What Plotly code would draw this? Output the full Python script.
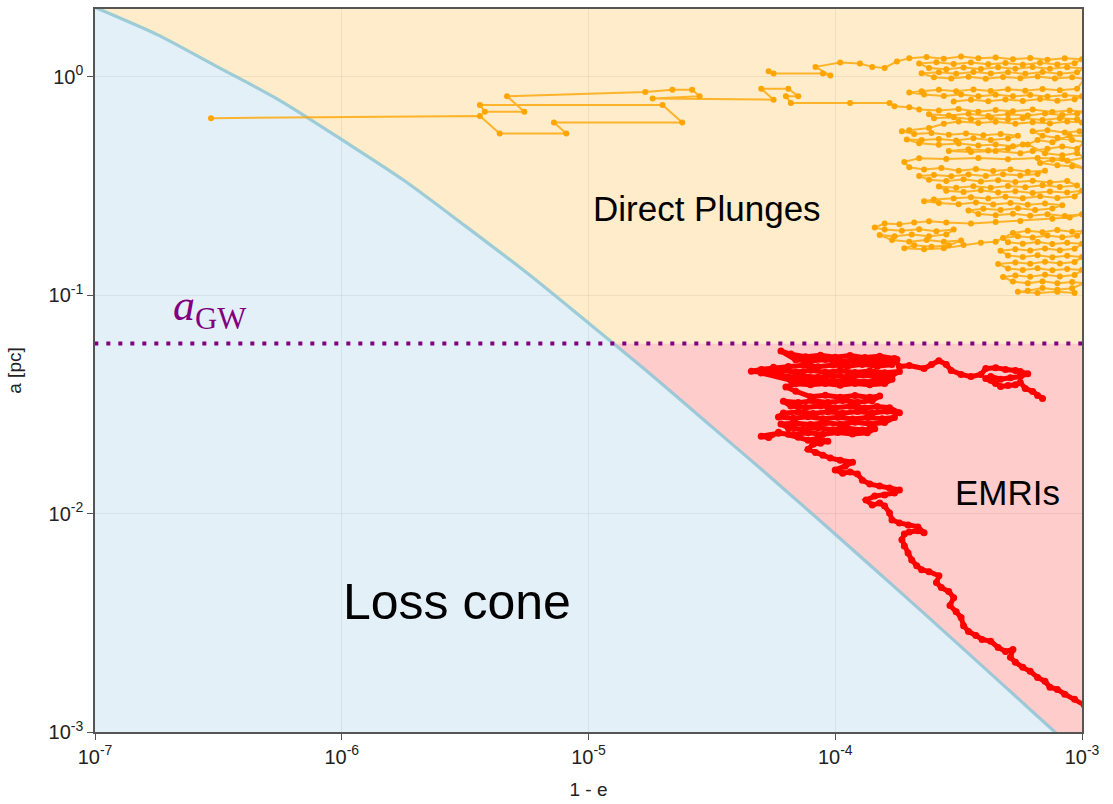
import math
import plotly.graph_objects as go

# ---------------- data (log10 units) ----------------
x_range_log = [-7.0, -3.0]          # log10(1 - e)
y_range_log = [-3.0, 0.31]          # log10(a / pc)
a_gw = 0.06                          # a_GW [pc]

x_tick_exp = [-7, -6, -5, -4, -3]
y_tick_exp = [-3, -2, -1, 0]

# loss-cone boundary: (log10(1-e), log10 a)
boundary = [(-7.05, 0.345), (-7.00, 0.318), (-6.75, 0.194), (-6.50, 0.043), (-6.25, -0.109),
            (-6.00, -0.288), (-5.75, -0.473), (-5.50, -0.683), (-5.25, -0.898), (-5.00, -1.128),
            (-4.75, -1.361), (-4.50, -1.603), (-4.25, -1.846), (-4.00, -2.095), (-3.75, -2.346),
            (-3.50, -2.600), (-3.30, -2.805), (-3.11, -3.000), (-3.06, -3.050)]

# direct-plunge trajectory, piece 1 (stair-steps then the lower bands)
orange_steps = [(-6.53, -0.19), (-5.44, -0.18), (-5.36, -0.26), (-5.09, -0.26), (-5.14, -0.21), (-4.62, -0.21),
                (-4.70, -0.13), (-5.44, -0.13), (-5.42, -0.16), (-5.26, -0.16), (-5.33, -0.09), (-4.77, -0.07),
                (-4.66, -0.06), (-4.58, -0.06), (-4.55, -0.09), (-4.74, -0.10), (-4.25, -0.105), (-4.30, -0.055),
                (-4.19, -0.055), (-4.15, -0.09), (-4.20, -0.09), (-4.18, -0.12), (-3.94, -0.12), (-3.78, -0.12),
                (-3.76, -0.135), (-3.70, -0.14)]
orange_band3 = [(-3.66, -0.15), (-3.58, -0.155), (-3.50, -0.148), (-3.42, -0.16), (-3.35, -0.152), (-3.28, -0.158),
                (-3.20, -0.15), (-3.12, -0.162), (-3.05, -0.155), (-2.99, -0.16),
                (-3.02, -0.17), (-3.08, -0.175), (-3.15, -0.168), (-3.22, -0.178), (-3.30, -0.172), (-3.38, -0.18),
                (-3.46, -0.17), (-3.54, -0.178), (-3.62, -0.172),
                (-3.60, -0.19), (-3.52, -0.186), (-3.45, -0.195), (-3.37, -0.188), (-3.30, -0.196), (-3.24, -0.19),
                (-3.16, -0.198), (-3.09, -0.19), (-3.02, -0.195),
                (-3.00, -0.21), (-3.06, -0.205), (-3.13, -0.214), (-3.20, -0.208), (-3.27, -0.215), (-3.35, -0.206),
                (-3.42, -0.212), (-3.50, -0.205), (-3.56, -0.215)]
orange_band4 = [(-3.62, -0.235), (-3.70, -0.245), (-3.73, -0.25),
                (-3.68, -0.262), (-3.61, -0.258), (-3.54, -0.266), (-3.47, -0.26), (-3.40, -0.268), (-3.33, -0.262),
                (-3.26, -0.27),
                (-3.30, -0.283), (-3.37, -0.29), (-3.44, -0.282), (-3.51, -0.292), (-3.58, -0.285), (-3.65, -0.29),
                (-3.71, -0.288),
                (-3.66, -0.305), (-3.58, -0.312), (-3.50, -0.306), (-3.42, -0.315), (-3.35, -0.31), (-3.28, -0.318),
                (-3.24, -0.31),
                (-3.30, -0.33), (-3.38, -0.338), (-3.46, -0.332), (-3.54, -0.34),
                (-3.45, -0.345), (-3.35, -0.34), (-3.25, -0.35), (-3.20, -0.34),
                (-3.14, -0.33), (-3.08, -0.32), (-3.02, -0.33), (-2.99, -0.30), (-3.04, -0.29), (-3.10, -0.28),
                (-3.16, -0.27), (-3.20, -0.25), (-3.14, -0.245), (-3.07, -0.255), (-3.01, -0.25), (-2.99, -0.27),
                (-3.05, -0.27), (-3.12, -0.30), (-3.18, -0.29), (-3.22, -0.31), (-3.15, -0.35), (-3.08, -0.36),
                (-3.02, -0.35), (-2.99, -0.37), (-3.06, -0.385), (-3.12, -0.38), (-3.17, -0.395), (-3.10, -0.405),
                (-3.04, -0.41), (-2.99, -0.42)]
orange_band5 = [(-3.08, -0.376), (-3.18, -0.372), (-3.30, -0.378), (-3.42, -0.372), (-3.55, -0.377), (-3.66, -0.373),
                (-3.72, -0.39)]
orange_band6 = [(-3.70, -0.415), (-3.64, -0.425), (-3.57, -0.418), (-3.50, -0.43), (-3.43, -0.422), (-3.36, -0.432),
                (-3.29, -0.425), (-3.22, -0.435), (-3.15, -0.43),
                (-3.18, -0.445), (-3.25, -0.452), (-3.32, -0.446), (-3.39, -0.455), (-3.46, -0.448), (-3.53, -0.456),
                (-3.60, -0.45), (-3.66, -0.455),
                (-3.62, -0.472), (-3.55, -0.478), (-3.48, -0.47), (-3.41, -0.48), (-3.34, -0.474), (-3.27, -0.482),
                (-3.20, -0.476), (-3.13, -0.484), (-3.06, -0.478),
                (-3.02, -0.498), (-3.09, -0.505), (-3.16, -0.497), (-3.23, -0.506), (-3.30, -0.50), (-3.37, -0.508),
                (-3.44, -0.502), (-3.51, -0.508), (-3.58, -0.503),
                (-3.55, -0.522), (-3.48, -0.528), (-3.41, -0.52), (-3.34, -0.53), (-3.27, -0.524), (-3.20, -0.532),
                (-3.13, -0.525), (-3.06, -0.53), (-3.00, -0.522),
                (-3.03, -0.548), (-3.10, -0.555), (-3.17, -0.547), (-3.24, -0.556), (-3.31, -0.55), (-3.38, -0.558),
                (-3.45, -0.552), (-3.52, -0.558), (-3.60, -0.562), (-3.64, -0.57),
                (-3.58, -0.578), (-3.50, -0.584), (-3.43, -0.576), (-3.36, -0.585), (-3.29, -0.578), (-3.22, -0.586),
                (-3.15, -0.58), (-3.08, -0.588),
                (-3.12, -0.603), (-3.19, -0.61), (-3.26, -0.602), (-3.33, -0.61), (-3.40, -0.605), (-3.46, -0.612),
                (-3.42, -0.628), (-3.35, -0.634), (-3.28, -0.627), (-3.21, -0.636), (-3.14, -0.63), (-3.07, -0.638),
                (-3.00, -0.63), (-3.05, -0.645), (-3.12, -0.65)]
orange_band7 = [(-3.25, -0.66), (-3.35, -0.665), (-3.45, -0.672), (-3.55, -0.668), (-3.62, -0.662),
                (-3.68, -0.668), (-3.74, -0.676), (-3.80, -0.672), (-3.84, -0.69),
                (-3.80, -0.70), (-3.73, -0.705), (-3.66, -0.698), (-3.59, -0.708), (-3.52, -0.70),
                (-3.55, -0.722), (-3.62, -0.73), (-3.69, -0.722), (-3.76, -0.73), (-3.82, -0.725),
                (-3.77, -0.748), (-3.70, -0.755), (-3.63, -0.748), (-3.56, -0.756), (-3.49, -0.75),
                (-3.54, -0.772), (-3.61, -0.778), (-3.68, -0.772), (-3.72, -0.785),
                (-3.64, -0.79), (-3.56, -0.785), (-3.48, -0.77), (-3.41, -0.76), (-3.35, -0.755),
                (-3.28, -0.715), (-3.22, -0.705), (-3.16, -0.712), (-3.10, -0.702), (-3.04, -0.71), (-2.99, -0.705),
                (-3.02, -0.728), (-3.08, -0.735), (-3.14, -0.727), (-3.20, -0.736), (-3.26, -0.73), (-3.32, -0.738),
                (-3.30, -0.758), (-3.24, -0.765), (-3.18, -0.757), (-3.12, -0.766), (-3.06, -0.76), (-3.00, -0.765),
                (-3.03, -0.788), (-3.09, -0.795), (-3.15, -0.787), (-3.21, -0.796), (-3.27, -0.79), (-3.33, -0.797),
                (-3.30, -0.818), (-3.24, -0.825), (-3.18, -0.817), (-3.12, -0.826), (-3.06, -0.82), (-3.00, -0.825),
                (-3.03, -0.848), (-3.09, -0.855), (-3.15, -0.847), (-3.21, -0.856), (-3.27, -0.85), (-3.34, -0.857),
                (-3.30, -0.878), (-3.24, -0.885), (-3.18, -0.877), (-3.12, -0.886), (-3.06, -0.88), (-3.00, -0.885),
                (-3.03, -0.908), (-3.09, -0.915), (-3.15, -0.907), (-3.21, -0.916), (-3.27, -0.91), (-3.32, -0.917),
                (-3.28, -0.938), (-3.22, -0.945), (-3.16, -0.937), (-3.10, -0.946), (-3.04, -0.94), (-2.99, -0.945),
                (-3.04, -0.968), (-3.10, -0.975), (-3.16, -0.967), (-3.22, -0.98), (-3.26, -0.985),
                (-3.18, -0.99), (-3.10, -0.985), (-3.03, -0.99)]

# direct-plunge trajectory, piece 2 (upper bands)
orange_band1 = [(-4.27, 0.025), (-4.25, 0.015), (-4.05, 0.015), (-4.02, 0.005), (-4.08, 0.045), (-3.98, 0.065),
                (-3.90, 0.06), (-3.85, 0.045), (-3.80, 0.04), (-3.75, 0.07),
                (-3.70, 0.085), (-3.63, 0.09), (-3.56, 0.082), (-3.49, 0.092), (-3.42, 0.084), (-3.35, 0.088),
                (-3.28, 0.08), (-3.21, 0.086), (-3.14, 0.078), (-3.07, 0.084), (-3.00, 0.08),
                (-3.03, 0.062), (-3.10, 0.056), (-3.17, 0.064), (-3.24, 0.055), (-3.31, 0.063), (-3.38, 0.057),
                (-3.45, 0.065), (-3.52, 0.058), (-3.59, 0.066), (-3.66, 0.06),
                (-3.62, 0.04), (-3.55, 0.034), (-3.48, 0.042), (-3.41, 0.035), (-3.34, 0.043), (-3.27, 0.036),
                (-3.20, 0.044), (-3.13, 0.037), (-3.06, 0.043), (-2.99, 0.038),
                (-3.02, 0.02), (-3.09, 0.014), (-3.16, 0.022), (-3.23, 0.013), (-3.30, 0.021), (-3.37, 0.015),
                (-3.44, 0.022), (-3.51, 0.014), (-3.58, 0.02), (-3.65, 0.016),
                (-3.60, -0.002), (-3.53, -0.008), (-3.46, 0.0), (-3.39, -0.009), (-3.32, -0.001), (-3.25, -0.007),
                (-3.18, 0.001), (-3.11, -0.008), (-3.04, -0.002), (-2.99, -0.01)]
orange_band2 = [(-3.02, -0.055), (-3.09, -0.062), (-3.16, -0.056), (-3.23, -0.064), (-3.30, -0.057), (-3.37, -0.065),
                (-3.44, -0.058), (-3.51, -0.066), (-3.58, -0.06), (-3.65, -0.066), (-3.70, -0.072),
                (-3.64, -0.082), (-3.56, -0.088), (-3.49, -0.081), (-3.42, -0.09), (-3.35, -0.083), (-3.28, -0.09),
                (-3.21, -0.084), (-3.14, -0.091), (-3.07, -0.085), (-3.00, -0.09),
                (-3.03, -0.103), (-3.10, -0.11), (-3.17, -0.102), (-3.24, -0.111), (-3.31, -0.104), (-3.38, -0.112),
                (-3.45, -0.106), (-3.52, -0.113)]

# EMRI trajectory
red_tail = [(-3.16, -1.473), (-3.18, -1.459), (-3.20, -1.441), (-3.23, -1.427), (-3.25, -1.40), (-3.27, -1.41),
            (-3.30, -1.414), (-3.33, -1.418), (-3.35, -1.404), (-3.37, -1.39), (-3.39, -1.382), (-3.37, -1.372),
            (-3.33, -1.385), (-3.29, -1.378), (-3.25, -1.373), (-3.22, -1.36), (-3.25, -1.35), (-3.27, -1.345),
            (-3.31, -1.34), (-3.35, -1.332), (-3.39, -1.336), (-3.41, -1.363), (-3.45, -1.373), (-3.49, -1.363),
            (-3.53, -1.345), (-3.55, -1.318), (-3.58, -1.30), (-3.61, -1.318), (-3.64, -1.336), (-3.70, -1.322),
            (-3.74, -1.327)]
red_cluster1 = [(-3.76, -1.29), (-3.82, -1.28), (-3.88, -1.286), (-3.94, -1.276), (-4.00, -1.284), (-4.06, -1.275),
                (-4.12, -1.282), (-4.18, -1.27), (-4.22, -1.256),
                (-4.16, -1.296), (-4.10, -1.302), (-4.04, -1.295), (-3.98, -1.305), (-3.92, -1.298), (-3.86, -1.306),
                (-3.80, -1.30), (-3.75, -1.295),
                (-3.77, -1.318), (-3.83, -1.325), (-3.89, -1.317), (-3.95, -1.326), (-4.01, -1.32), (-4.07, -1.328),
                (-4.13, -1.321), (-4.19, -1.327), (-4.25, -1.33),
                (-4.30, -1.34), (-4.34, -1.348), (-4.28, -1.355), (-4.22, -1.345), (-4.16, -1.352), (-4.10, -1.344),
                (-4.04, -1.353), (-3.98, -1.346), (-3.92, -1.354), (-3.86, -1.347), (-3.80, -1.355), (-3.74, -1.35),
                (-3.77, -1.368), (-3.83, -1.374), (-3.89, -1.366), (-3.95, -1.375), (-4.01, -1.369), (-4.07, -1.376),
                (-4.13, -1.37), (-4.19, -1.375), (-4.25, -1.36), (-4.30, -1.356),
                (-4.18, -1.39), (-4.12, -1.395), (-4.06, -1.388), (-4.00, -1.397), (-3.94, -1.39), (-3.88, -1.398),
                (-3.82, -1.392), (-3.77, -1.385),
                (-3.80, -1.405), (-3.86, -1.41), (-3.92, -1.404), (-3.98, -1.412), (-4.04, -1.405), (-4.10, -1.41),
                (-4.16, -1.406), (-4.20, -1.42)]
red_cluster2 = [(-4.16, -1.44), (-4.10, -1.465), (-4.04, -1.458), (-3.98, -1.467), (-3.92, -1.46), (-3.86, -1.468),
                (-3.82, -1.462),
                (-3.85, -1.483), (-3.91, -1.49), (-3.97, -1.482), (-4.03, -1.491), (-4.09, -1.484), (-4.15, -1.492),
                (-4.21, -1.486),
                (-4.18, -1.508), (-4.12, -1.514), (-4.06, -1.507), (-4.00, -1.516), (-3.94, -1.509), (-3.88, -1.517),
                (-3.83, -1.51), (-3.78, -1.515),
                (-3.74, -1.538), (-3.79, -1.532), (-3.85, -1.54), (-3.91, -1.533), (-3.97, -1.541), (-4.03, -1.534),
                (-4.09, -1.542), (-4.15, -1.535), (-4.21, -1.54),
                (-4.23, -1.558), (-4.17, -1.564), (-4.11, -1.557), (-4.05, -1.566), (-3.99, -1.559), (-3.93, -1.567),
                (-3.87, -1.56), (-3.81, -1.566), (-3.76, -1.56),
                (-3.80, -1.583), (-3.86, -1.59), (-3.92, -1.582), (-3.98, -1.591), (-4.04, -1.584), (-4.10, -1.592),
                (-4.16, -1.586), (-4.22, -1.59),
                (-4.19, -1.608), (-4.13, -1.614), (-4.07, -1.607), (-4.01, -1.616), (-3.95, -1.609), (-3.89, -1.617),
                (-3.84, -1.612),
                (-3.87, -1.63), (-3.93, -1.636), (-3.99, -1.629), (-4.05, -1.637), (-4.11, -1.63), (-4.17, -1.638),
                (-4.23, -1.632), (-4.30, -1.646), (-4.27, -1.652)]
red_descent = [(-4.23, -1.628), (-4.19, -1.637), (-4.15, -1.651), (-4.11, -1.664), (-4.07, -1.655), (-4.03, -1.669),
               (-4.06, -1.678), (-4.09, -1.683), (-4.11, -1.706), (-4.08, -1.72), (-4.05, -1.733), (-4.02, -1.746),
               (-3.98, -1.756), (-3.93, -1.765), (-3.96, -1.783), (-4.00, -1.80), (-3.97, -1.815), (-3.94, -1.81),
               (-3.91, -1.819), (-3.89, -1.847), (-3.86, -1.865), (-3.82, -1.874), (-3.78, -1.883), (-3.74, -1.892),
               (-3.76, -1.906), (-3.80, -1.915), (-3.84, -1.92), (-3.875, -1.938), (-3.85, -1.961), (-3.82, -1.952),
               (-3.80, -1.965), (-3.78, -1.997), (-3.77, -2.029), (-3.74, -2.043), (-3.705, -2.052), (-3.665, -2.061),
               (-3.64, -2.088), (-3.665, -2.079), (-3.70, -2.084), (-3.72, -2.093), (-3.73, -2.12), (-3.72, -2.148),
               (-3.705, -2.18), (-3.69, -2.212), (-3.67, -2.239), (-3.65, -2.257), (-3.62, -2.266), (-3.58, -2.285),
               (-3.59, -2.316), (-3.57, -2.339), (-3.54, -2.357), (-3.52, -2.385), (-3.535, -2.421), (-3.51, -2.449),
               (-3.49, -2.476), (-3.48, -2.513), (-3.46, -2.54), (-3.43, -2.558), (-3.405, -2.576), (-3.37, -2.585),
               (-3.34, -2.613), (-3.31, -2.631), (-3.28, -2.622), (-3.29, -2.658), (-3.27, -2.681), (-3.24, -2.704),
               (-3.21, -2.722), (-3.18, -2.75), (-3.15, -2.768), (-3.13, -2.795), (-3.10, -2.805), (-3.07, -2.827),
               (-3.03, -2.85), (-2.99, -2.877)]


# ---------------- helpers ----------------
def join(*segments):
    xs, ys = [], []
    for k, seg in enumerate(segments):
        if k and seg is None:
            xs.append(None); ys.append(None)
            continue
        for px, py in seg:
            xs.append(10 ** px); ys.append(10 ** py)
    return xs, ys


def lin(v):
    return [10 ** t for t in v]


bx = [p[0] for p in boundary]
ba = [p[1] for p in boundary]

xl, xr = x_range_log[0] - 0.1, x_range_log[1] + 0.1
yb, yt = y_range_log[0] - 0.05, y_range_log[1] + 0.04

lg = math.log10(a_gw)
for i in range(len(ba) - 1):
    if ba[i] >= lg >= ba[i + 1]:
        f = (ba[i] - lg) / (ba[i] - ba[i + 1])
        x_int = bx[i] + f * (bx[i + 1] - bx[i])
        k_int = i
        break

cone_x = bx + [xl, xl]
cone_a = ba + [yb, yt]
plunge_x = bx[:k_int + 1] + [x_int, xr, xr]
plunge_a = ba[:k_int + 1] + [lg, lg, yt]
emri_x = [x_int] + bx[k_int + 1:] + [xr, xr]
emri_a = [lg] + ba[k_int + 1:] + [yb, lg]

fig = go.Figure()

for px_, py_, col in [(cone_x, cone_a, "rgba(221,236,246,0.8)"),
                      (plunge_x, plunge_a, "rgba(254,231,190,0.8)"),
                      (emri_x, emri_a, "rgba(255,191,191,0.8)")]:
    fig.add_trace(go.Scatter(x=lin(px_), y=lin(py_), fill="toself", mode="lines",
                             line=dict(width=0), fillcolor=col, hoverinfo="skip"))

fig.add_trace(go.Scatter(x=lin(bx), y=lin(ba), mode="lines",
                         line=dict(color="rgba(135,195,212,0.8)", width=3.2, shape="spline", smoothing=0.8),
                         hoverinfo="skip"))

fig.add_trace(go.Scatter(x=[10 ** xl, 10 ** xr], y=[a_gw, a_gw], mode="lines",
                         line=dict(color="#800080", width=4, dash="4px,8px")))

ox, oy = join(orange_steps + orange_band3 + orange_band4 + orange_band5 + orange_band6 + orange_band7,
              None, orange_band1 + orange_band2)
fig.add_trace(go.Scatter(x=ox, y=oy, mode="lines+markers", connectgaps=False,
                         line=dict(color="rgba(255,165,0,0.8)", width=2),
                         marker=dict(color="#FFA500", size=6)))

rx, ry = join(red_tail + red_cluster1 + red_cluster2 + red_descent)
fig.add_trace(go.Scatter(x=rx, y=ry, mode="lines+markers",
                         line=dict(color="#FF0000", width=5),
                         marker=dict(color="#FF0000", size=7)))

font_main = "Liberation Sans, Arial, sans-serif"

annotations = [
    dict(text="Direct Plunges", x=0.620, y=0.7245, font=dict(size=35, color="black")),
    dict(text="EMRIs", x=0.925, y=0.3306, font=dict(size=35, color="black")),
    dict(text="Loss cone", x=0.3668, y=0.1804, font=dict(size=50, color="black")),
    dict(text="<i>a</i><sub>GW</sub>", x=0.1165, y=0.5854,
         font=dict(size=44, color="#800080", family="Liberation Serif, DejaVu Serif, serif")),
]
for a in annotations:
    a.update(xref="paper", yref="paper", showarrow=False, xanchor="center", yanchor="middle")

axis_common = dict(
    type="log", showline=True, linecolor="#555555", linewidth=1.5, mirror=True,
    ticks="outside", ticklen=6, tickcolor="#555555", tickwidth=1,
    showgrid=True, gridcolor="rgba(0,0,0,0.28)", gridwidth=1, zeroline=False,
    tickfont=dict(size=20, color="#222222", family=font_main),
)

fig.update_layout(
    width=1113, height=804,
    margin=dict(l=95, r=31, t=7, b=71),
    paper_bgcolor="white", plot_bgcolor="white",
    showlegend=False,
    font=dict(family=font_main, color="#222222"),
    annotations=annotations,
    xaxis=dict(**axis_common, range=x_range_log,
               tickvals=[10 ** e for e in x_tick_exp],
               ticktext=["10<sup>%d</sup>" % e for e in x_tick_exp],
               title=dict(text="1 - e", font=dict(size=19), standoff=16)),
    yaxis=dict(**axis_common, range=y_range_log,
               tickvals=[10 ** e for e in y_tick_exp],
               ticktext=["10<sup>%d</sup>" % e for e in y_tick_exp],
               title=dict(text="a [pc]", font=dict(size=19), standoff=22)),
)

fig.write_html("out.html")
